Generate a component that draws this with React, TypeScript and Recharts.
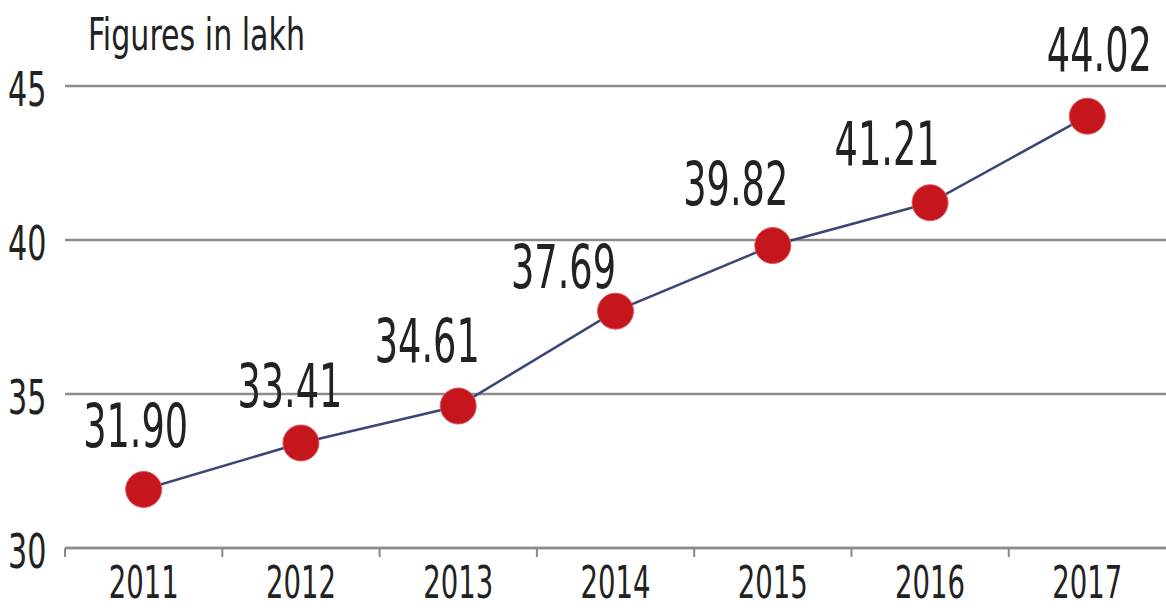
import { LineChart, Line, XAxis, YAxis, CartesianGrid, LabelList } from 'recharts';

const years = ['2011', '2012', '2013', '2014', '2015', '2016', '2017'];
const figures = [31.9, 33.41, 34.61, 37.69, 39.82, 41.21, 44.02];
const yTicks = [30, 35, 40, 45];

const data = years.map((year, i) => ({ year, value: figures[i] }));

const FONT = '"DejaVu Sans Condensed", "Liberation Sans Narrow", sans-serif';
const INK = '#222';

// label nudges so the numbers sit above-left of each dot like the print graphic
const labelShift = [
  [-8, -64],
  [-11, -57],
  [-31, -65],
  [-52, -44],
  [-37, -62],
  [-43, -59],
  [12, -66],
];

// narrow text: the print face is much more condensed than anything installed
function NarrowText({ x, y, size, squeeze, anchor = 'middle', children }: any) {
  return (
    <text
      transform={`translate(${x},${y}) scale(${squeeze},1)`}
      textAnchor={anchor}
      dominantBaseline="central"
      fontFamily={FONT}
      fontSize={size}
      fill={INK}
    >
      {children}
    </text>
  );
}

function ValueLabel(props: any) {
  const { x, y, index, value } = props;
  const [dx, dy] = labelShift[index] || [0, -50];
  return (
    <NarrowText x={x + dx} y={y + dy} size={60} squeeze={0.68}>
      {Number(value).toFixed(2)}
    </NarrowText>
  );
}

function YearTick(props: any) {
  const { x, y, payload } = props;
  const half = 78.6;
  return (
    <g>
      <line x1={x - half} x2={x - half} y1={y - 8} y2={y + 1} stroke="#888" strokeWidth={2} />
      <NarrowText x={x} y={y + 26} size={45} squeeze={0.68}>
        {payload.value}
      </NarrowText>
    </g>
  );
}

function ValueTick(props: any) {
  const { y, payload } = props;
  return (
    <NarrowText x={8} y={y + 4} size={48} squeeze={0.7} anchor="start">
      {payload.value}
    </NarrowText>
  );
}

export default function App() {
  return (
    <div style={{ position: 'absolute', left: 0, top: 0, width: 1166, height: 610, background: '#fff' }}>
      <div
        style={{
          position: 'absolute',
          left: 88,
          top: 9,
          fontFamily: FONT,
          fontSize: 44,
          color: INK,
          transform: 'scaleX(0.76)',
          transformOrigin: 'left top',
          whiteSpace: 'nowrap',
        }}
      >
        Figures in lakh
      </div>
      <LineChart width={1166} height={610} data={data} margin={{ top: 86, right: 0, bottom: 0, left: 0 }}>
        <CartesianGrid horizontal vertical={false} stroke="#8c8c8c" strokeWidth={2.5} />
        <XAxis
          dataKey="year"
          scale="band"
          height={62}
          axisLine={{ stroke: '#8c8c8c', strokeWidth: 2.5 }}
          tickLine={false}
          tick={<YearTick />}
          interval={0}
        />
        <YAxis
          domain={[30, 45]}
          ticks={yTicks}
          width={65}
          axisLine={false}
          tickLine={false}
          tick={<ValueTick />}
        />
        <Line
          dataKey="value"
          stroke="#3b4677"
          strokeWidth={2.5}
          isAnimationActive={false}
          dot={{ r: 18, fill: '#c4161c', stroke: '#e0575a', strokeWidth: 1 }}
          activeDot={false}
        >
          <LabelList dataKey="value" content={<ValueLabel />} />
        </Line>
      </LineChart>
    </div>
  );
}
